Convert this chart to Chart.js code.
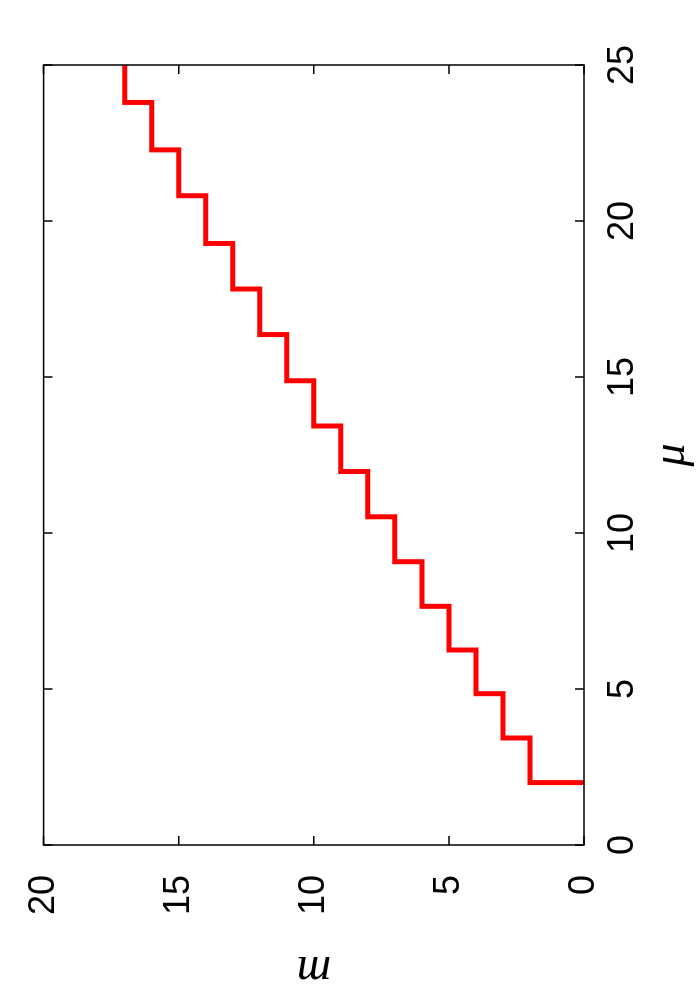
<!DOCTYPE html>
<html><head><meta charset="utf-8">
<script src="https://cdn.jsdelivr.net/npm/chart.js@4"></script>
<style>
html,body{margin:0;padding:0;background:#fff;overflow:hidden;width:700px;height:1000px;}
#wrap{position:absolute;left:0;top:0;width:1000px;height:700px;transform-origin:0 0;transform:translate(0px,1000px) rotate(-90deg);}
canvas{display:block;}
</style></head><body>
<div id="wrap"><canvas id="c" width="1000" height="700"></canvas></div>
<script>
// mu (x) positions where the level m starts; m levels (stepped)
const muValues = [2.0, 2.0, 3.43, 4.85, 6.25, 7.65, 9.08, 10.52, 11.97, 13.43, 14.88, 16.36, 17.82, 19.28, 20.81, 22.28, 23.8, 25];
const mValues  = [0, 2, 3, 4, 5, 6, 7, 8, 9, 10, 11, 12, 13, 14, 15, 16, 17, 17];
const muTicks = [0, 5, 10, 15, 20, 25];
const mTicks  = [0, 5, 10, 15, 20];
const xTitle = 'μ';
const yTitle = 'm';

const points = muValues.map((v, i) => ({x: v, y: mValues[i]}));

const frame = {
  id: 'frame',
  afterDatasetsDraw(chart) {
    const {ctx, chartArea: a, scales: {x, y}} = chart;
    ctx.save();
    ctx.strokeStyle = '#000';
    ctx.lineWidth = 1.5;
    ctx.beginPath();
    muTicks.forEach(v => {
      const px = x.getPixelForValue(v);
      ctx.moveTo(px, a.bottom); ctx.lineTo(px, a.bottom - 9);
      ctx.moveTo(px, a.top); ctx.lineTo(px, a.top + 9);
    });
    mTicks.forEach(v => {
      const py = y.getPixelForValue(v);
      ctx.moveTo(a.left, py); ctx.lineTo(a.left + 9, py);
      ctx.moveTo(a.right, py); ctx.lineTo(a.right - 9, py);
    });
    ctx.stroke();
    ctx.strokeRect(a.left, a.top, a.right - a.left, a.bottom - a.top);
    ctx.restore();
  }
};

const tickFont = {family: '"Liberation Sans", Arial, sans-serif', size: 36};

new Chart(document.getElementById('c'), {
  type: 'line',
  data: {
    datasets: [{
      data: points,
      borderColor: '#ff0000',
      borderWidth: 5,
      pointRadius: 0,
      stepped: 'before',
      fill: false,
      borderJoinStyle: 'miter',
      borderCapStyle: 'butt'
    }]
  },
  options: {
    responsive: false,
    animation: false,
    devicePixelRatio: 1,
    layout: {padding: {left: 0, top: 43, right: 65, bottom: 0}},
    plugins: {legend: {display: false}, tooltip: {enabled: false}},
    scales: {
      x: {
        type: 'linear', min: 0, max: 25,
        afterBuildTicks: s => { s.ticks = muTicks.map(v => ({value: v})); },
        afterFit: s => { s.height = 116; },
        grid: {display: false},
        border: {display: false},
        ticks: {font: tickFont, color: '#000', padding: 9, maxRotation: 0},
        title: {display: true, text: xTitle, color: '#000', padding: 0,
          font: {family: '"Liberation Serif", "Times New Roman", serif', style: 'italic', size: 46, lineHeight: 1.2}}
      },
      y: {
        type: 'linear', min: 0, max: 20,
        afterBuildTicks: s => { s.ticks = mTicks.map(v => ({value: v})); },
        afterFit: s => { s.width = 155; },
        grid: {display: false},
        border: {display: false},
        ticks: {font: tickFont, color: '#000', padding: 22},
        title: {display: true, text: yTitle, color: '#000', padding: 2,
          font: {family: '"Liberation Serif", "Times New Roman", serif', style: 'italic', size: 48, lineHeight: 1.2}}
      }
    }
  },
  plugins: [frame]
});
</script>
</body></html>
